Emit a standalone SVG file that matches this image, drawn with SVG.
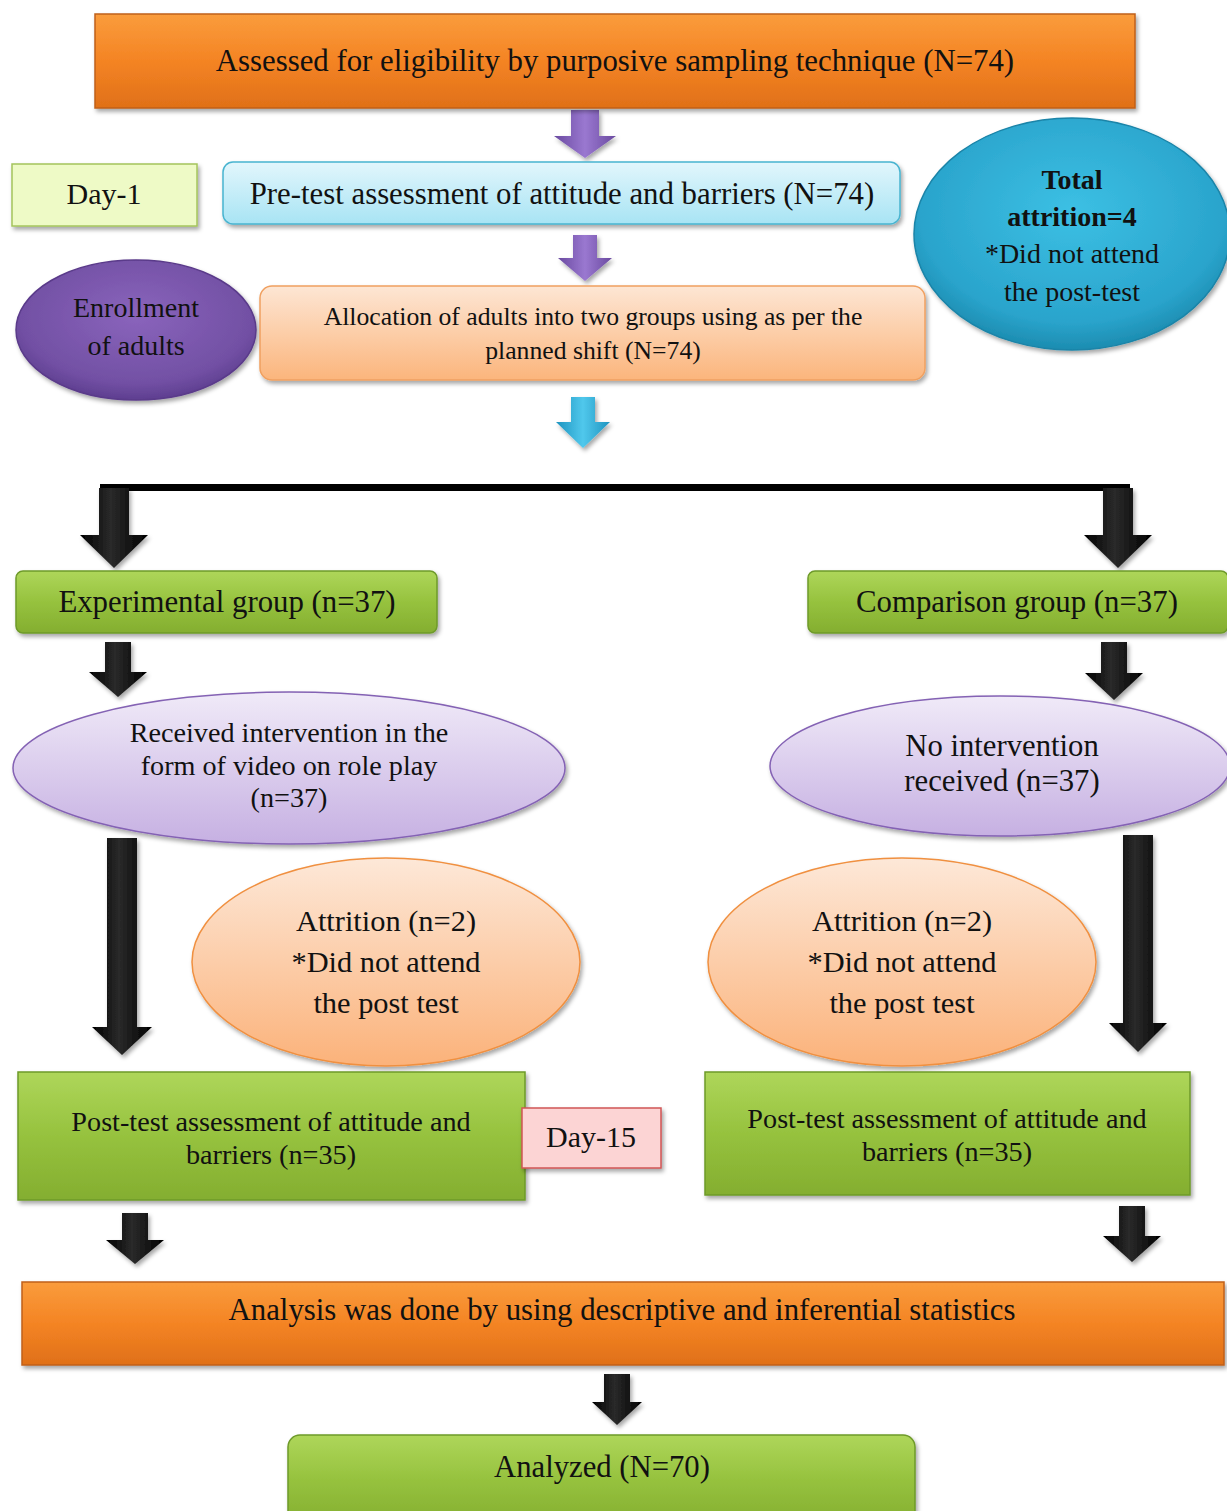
<svg xmlns="http://www.w3.org/2000/svg" width="1227" height="1511" viewBox="0 0 1227 1511">
<defs>
<linearGradient id="gOrange" x1="0" y1="0" x2="0" y2="1"><stop offset="0" stop-color="#fa9c3c"/><stop offset="0.5" stop-color="#f48424"/><stop offset="1" stop-color="#e07018"/></linearGradient>
<linearGradient id="gGreen" x1="0" y1="0" x2="0" y2="1"><stop offset="0" stop-color="#aed65a"/><stop offset="0.5" stop-color="#96c23e"/><stop offset="1" stop-color="#84ae30"/></linearGradient>
<linearGradient id="gBlueBox" x1="0" y1="0" x2="0" y2="1"><stop offset="0" stop-color="#e2f6fc"/><stop offset="1" stop-color="#a8e4f4"/></linearGradient>
<linearGradient id="gPeach" x1="0" y1="0" x2="0" y2="1"><stop offset="0" stop-color="#fde6d4"/><stop offset="1" stop-color="#fbb57c"/></linearGradient>
<linearGradient id="gLav" x1="0" y1="0" x2="0" y2="1"><stop offset="0" stop-color="#f0eaf8"/><stop offset="1" stop-color="#c6b0e2"/></linearGradient>
<linearGradient id="gPeachE" x1="0" y1="0" x2="0" y2="1"><stop offset="0" stop-color="#fde8d8"/><stop offset="1" stop-color="#fbb27a"/></linearGradient>
<radialGradient id="gTeal" cx="0.5" cy="0.4" r="0.6"><stop offset="0" stop-color="#3cc0e4"/><stop offset="0.8" stop-color="#2aa4cc"/><stop offset="1" stop-color="#1c8cb0"/></radialGradient>
<radialGradient id="gPurple" cx="0.5" cy="0.4" r="0.6"><stop offset="0" stop-color="#8a64bc"/><stop offset="0.8" stop-color="#7250a4"/><stop offset="1" stop-color="#5e3e90"/></radialGradient>
<linearGradient id="gArrowP" x1="0" y1="0" x2="1" y2="0"><stop offset="0" stop-color="#6a4aa0"/><stop offset="0.5" stop-color="#9a78d0"/><stop offset="1" stop-color="#6a4aa0"/></linearGradient>
<linearGradient id="gArrowB" x1="0" y1="0" x2="1" y2="0"><stop offset="0" stop-color="#1e94c0"/><stop offset="0.5" stop-color="#50c8ec"/><stop offset="1" stop-color="#1e94c0"/></linearGradient>
<linearGradient id="gArrowK" x1="0" y1="0" x2="1" y2="0"><stop offset="0" stop-color="#000"/><stop offset="0.45" stop-color="#2a2a2a"/><stop offset="1" stop-color="#000"/></linearGradient>
<filter id="sh" x="-10%" y="-10%" width="120%" height="130%"><feDropShadow dx="2" dy="3" stdDeviation="2" flood-color="#000" flood-opacity="0.35"/></filter>
</defs>
<style>
text{font-family:"Liberation Serif","Times New Roman",serif;fill:#111;text-anchor:middle}
.orange{fill:url(#gOrange);stroke:#c0601a;stroke-width:1.5}
.green{fill:url(#gGreen);stroke:#6e9a2a;stroke-width:1.5}
.ak{fill:url(#gArrowK)}
</style>
<g id="connectors">
<polygon fill="url(#gArrowP)" filter="url(#sh)" points="571,110 599,110 599,136 616,136 585,158 554,136 571,136"/>
<polygon fill="url(#gArrowP)" filter="url(#sh)" points="573,235 597,235 597,258 612,258 585,281 558,258 573,258"/>
<polygon fill="url(#gArrowB)" filter="url(#sh)" points="571,397 595,397 595,422 610,422 583,448 556,422 571,422"/>
<rect x="100" y="484" width="1030" height="7" fill="#000"/>
<polygon class="ak" filter="url(#sh)" points="99,488 129,488 129,535 148,535 114,568 80,535 99,535"/>
<polygon class="ak" filter="url(#sh)" points="1103,488 1133,488 1133,535 1152,535 1118,568 1084,535 1103,535"/>
<polygon class="ak" filter="url(#sh)" points="105,642 131,642 131,672 147,672 118,697 89,672 105,672"/>
<polygon class="ak" filter="url(#sh)" points="1101,642 1127,642 1127,673 1143,673 1114,700 1085,673 1101,673"/>
<polygon class="ak" filter="url(#sh)" points="107,838 137,838 137,1027 152,1027 122,1055 92,1027 107,1027"/>
<polygon class="ak" filter="url(#sh)" points="1123,835 1153,835 1153,1023 1167,1023 1138,1052 1109,1023 1123,1023"/>
<polygon class="ak" filter="url(#sh)" points="122,1213 148,1213 148,1240 164,1240 135,1264 106,1240 122,1240"/>
<polygon class="ak" filter="url(#sh)" points="1119,1206 1145,1206 1145,1236 1161,1236 1132,1262 1103,1236 1119,1236"/>
<polygon class="ak" filter="url(#sh)" points="604,1374 630,1374 630,1402 642,1402 617,1425 592,1402 604,1402"/>
</g>
<g id="n-assessed">
<rect x="95" y="14" width="1040" height="94" class="orange" filter="url(#sh)"/>
<text x="615" y="71" font-size="30.8">Assessed for eligibility by purposive sampling technique (N=74)</text>
</g>
<g id="n-day1">
<rect x="12" y="164" width="185" height="62" fill="#eefac6" stroke="#a4c45c" stroke-width="1.5" filter="url(#sh)"/>
<text x="104" y="204" font-size="30">Day-1</text>
</g>
<g id="n-pretest">
<rect x="223" y="162" width="677" height="62" rx="10" fill="url(#gBlueBox)" stroke="#48b4d0" stroke-width="1.5" filter="url(#sh)"/>
<text x="562" y="204" font-size="30.8">Pre-test assessment of attitude and barriers (N=74)</text>
</g>
<g id="n-total">
<ellipse cx="1072" cy="234" rx="158" ry="116" fill="url(#gTeal)" stroke="#1a84a8" stroke-width="1.5" filter="url(#sh)"/>
<text x="1072" y="189" font-size="28" font-weight="bold">Total</text>
<text x="1072" y="226" font-size="28" font-weight="bold">attrition=4</text>
<text x="1072" y="263" font-size="28">*Did not attend</text>
<text x="1072" y="301" font-size="28">the post-test</text>
</g>
<g id="n-enroll">
<ellipse cx="136" cy="330" rx="120" ry="70" fill="url(#gPurple)" stroke="#5a3a8a" stroke-width="1.5" filter="url(#sh)"/>
<text x="136" y="317" font-size="28">Enrollment</text>
<text x="136" y="355" font-size="28">of adults</text>
</g>
<g id="n-alloc">
<rect x="260" y="286" width="665" height="94" rx="12" fill="url(#gPeach)" stroke="#f0a060" stroke-width="1.5" filter="url(#sh)"/>
<text x="593" y="325" font-size="25.7">Allocation of adults into two groups using as per the</text>
<text x="593" y="359" font-size="25.7">planned shift (N=74)</text>
</g>
<g id="n-exp">
<rect x="16" y="571" width="421" height="62" rx="7" class="green" filter="url(#sh)"/>
<text x="227" y="612" font-size="30.8">Experimental group (n=37)</text>
</g>
<g id="n-comp">
<rect x="808" y="571" width="420" height="62" rx="7" class="green" filter="url(#sh)"/>
<text x="1017" y="612" font-size="30.8">Comparison group (n=37)</text>
</g>
<g id="n-received">
<ellipse cx="289" cy="768" rx="276" ry="76" fill="url(#gLav)" stroke="#8462b4" stroke-width="1.5" filter="url(#sh)"/>
<text x="289" y="742" font-size="28.2">Received intervention in the</text>
<text x="289" y="775" font-size="28.2">form of video on role play</text>
<text x="289" y="807" font-size="28.2">(n=37)</text>
</g>
<g id="n-nointerv">
<ellipse cx="1000" cy="766" rx="230" ry="70" fill="url(#gLav)" stroke="#8462b4" stroke-width="1.5" filter="url(#sh)"/>
<text x="1002" y="756" font-size="30.7">No intervention</text>
<text x="1002" y="791" font-size="30.7">received (n=37)</text>
</g>
<g id="n-attr-left">
<ellipse cx="386" cy="962" rx="194" ry="104" fill="url(#gPeachE)" stroke="#f09040" stroke-width="1.5" filter="url(#sh)"/>
<text x="386" y="931" font-size="30.4">Attrition (n=2)</text>
<text x="386" y="972" font-size="30.4">*Did not attend</text>
<text x="386" y="1013" font-size="30.4">the post test</text>
</g>
<g id="n-attr-right">
<ellipse cx="902" cy="962" rx="194" ry="104" fill="url(#gPeachE)" stroke="#f09040" stroke-width="1.5" filter="url(#sh)"/>
<text x="902" y="931" font-size="30.4">Attrition (n=2)</text>
<text x="902" y="972" font-size="30.4">*Did not attend</text>
<text x="902" y="1013" font-size="30.4">the post test</text>
</g>
<g id="n-post-left">
<rect x="18" y="1072" width="507" height="128" class="green" filter="url(#sh)"/>
<text x="271" y="1131" font-size="28.2">Post-test assessment of attitude and</text>
<text x="271" y="1164" font-size="28.2">barriers (n=35)</text>
</g>
<g id="n-day15">
<rect x="522" y="1108" width="139" height="60" fill="#fcd4d4" stroke="#d05656" stroke-width="1.5" filter="url(#sh)"/>
<text x="591" y="1147" font-size="30">Day-15</text>
</g>
<g id="n-post-right">
<rect x="705" y="1072" width="485" height="123" class="green" filter="url(#sh)"/>
<text x="947" y="1128" font-size="28.2">Post-test assessment of attitude and</text>
<text x="947" y="1161" font-size="28.2">barriers (n=35)</text>
</g>
<g id="n-analysis">
<rect x="22" y="1282" width="1202" height="83" class="orange" filter="url(#sh)"/>
<text x="622" y="1320" font-size="30.8">Analysis was done by using descriptive and inferential statistics</text>
</g>
<g id="n-analyzed">
<rect x="288" y="1435" width="627" height="90" rx="12" class="green" filter="url(#sh)"/>
<text x="602" y="1477" font-size="30.7">Analyzed (N=70)</text>
</g>
</svg>
